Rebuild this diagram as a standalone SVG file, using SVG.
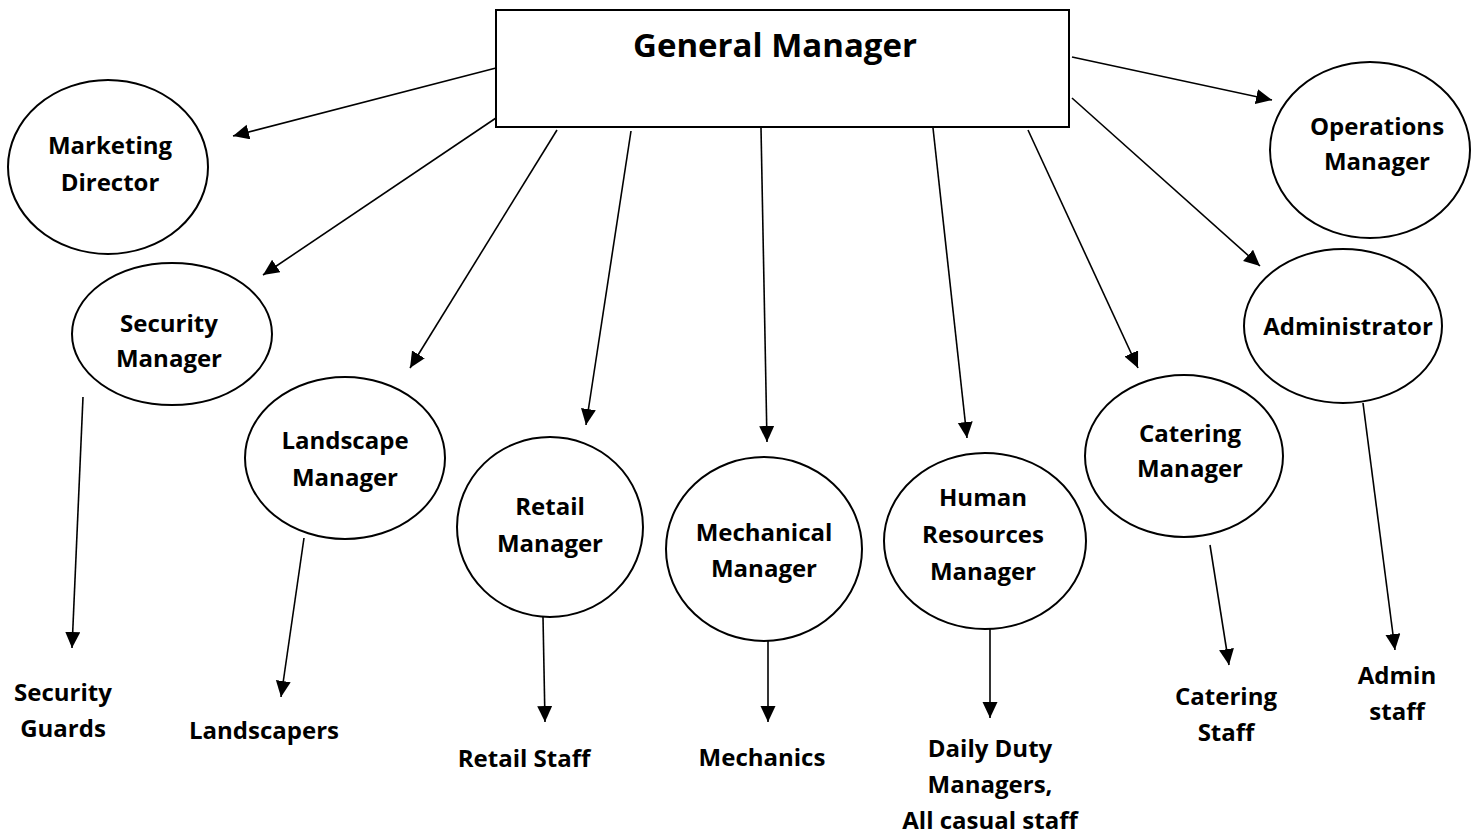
<svg xmlns="http://www.w3.org/2000/svg" width="1482" height="835" viewBox="0 0 1482 835">
<style>
text{font-family:"Open Sans","Liberation Sans",sans-serif;font-weight:bold;font-size:24px;fill:#000;text-anchor:middle}
.node{fill:#fff;stroke:#000;stroke-width:2}
.c line{stroke:#000;stroke-width:1.6;marker-end:url(#ah)}
</style>
<defs>
<marker id="ah" markerUnits="userSpaceOnUse" markerWidth="18" markerHeight="16" refX="16" refY="7.5" orient="auto">
<path d="M0,0 L16,7.5 L0,15 Z" fill="#000"/>
</marker>
</defs>
<rect width="1482" height="835" fill="#fff"/>
<g id="connectors" class="c">
<line x1="496" y1="68" x2="233" y2="136"/>
<line x1="496" y1="118" x2="263" y2="275"/>
<line x1="557" y1="130" x2="410" y2="368"/>
<line x1="631" y1="131" x2="586" y2="425"/>
<line x1="761" y1="128" x2="767" y2="442"/>
<line x1="933" y1="128" x2="967" y2="438"/>
<line x1="1028" y1="130" x2="1138" y2="368"/>
<line x1="1072" y1="98" x2="1260" y2="266"/>
<line x1="1072" y1="57" x2="1272" y2="100"/>
<line x1="83" y1="397" x2="72" y2="648"/>
<line x1="304" y1="538" x2="281" y2="697"/>
<line x1="543" y1="617" x2="545" y2="722"/>
<line x1="768" y1="641" x2="768" y2="722"/>
<line x1="990" y1="629" x2="990" y2="718"/>
<line x1="1210" y1="545" x2="1229" y2="665"/>
<line x1="1363" y1="403" x2="1395" y2="650"/>
</g>
<g id="general-manager">
<rect class="node" x="496" y="10" width="573" height="117"/>
<text x="775" y="57" style="font-size:33px">General Manager</text>
</g>
<g id="marketing-director">
<ellipse class="node" cx="108" cy="167" rx="100" ry="87"/>
<text x="110" y="154">Marketing</text><text x="110" y="191">Director</text>
</g>
<g id="operations-manager">
<ellipse class="node" cx="1370" cy="150" rx="100" ry="88"/>
<text x="1377" y="135">Operations</text><text x="1377" y="170">Manager</text>
</g>
<g id="security-manager">
<ellipse class="node" cx="172" cy="334" rx="100" ry="71"/>
<text x="169" y="332">Security</text><text x="169" y="367">Manager</text>
</g>
<g id="administrator">
<ellipse class="node" cx="1343" cy="326" rx="99" ry="77"/>
<text x="1348" y="335">Administrator</text>
</g>
<g id="landscape-manager">
<ellipse class="node" cx="345" cy="458" rx="100" ry="81"/>
<text x="345" y="449">Landscape</text><text x="345" y="486">Manager</text>
</g>
<g id="catering-manager">
<ellipse class="node" cx="1184" cy="456" rx="99" ry="81"/>
<text x="1190" y="442">Catering</text><text x="1190" y="477">Manager</text>
</g>
<g id="retail-manager">
<ellipse class="node" cx="550" cy="527" rx="93" ry="90"/>
<text x="550" y="515">Retail</text><text x="550" y="552">Manager</text>
</g>
<g id="mechanical-manager">
<ellipse class="node" cx="764" cy="549" rx="98" ry="92"/>
<text x="764" y="541">Mechanical</text><text x="764" y="577">Manager</text>
</g>
<g id="hr-manager">
<ellipse class="node" cx="985" cy="541" rx="101" ry="88"/>
<text x="983" y="506">Human</text><text x="983" y="543">Resources</text><text x="983" y="580">Manager</text>
</g>
<g id="security-guards">
<text x="63" y="701">Security</text><text x="63" y="737">Guards</text>
</g>
<g id="landscapers"><text x="264" y="739">Landscapers</text></g>
<g id="retail-staff"><text x="524" y="767">Retail Staff</text></g>
<g id="mechanics"><text x="762" y="766">Mechanics</text></g>
<g id="daily-duty">
<text x="990" y="757">Daily Duty</text><text x="990" y="793">Managers,</text><text x="990" y="829">All casual staff</text>
</g>
<g id="catering-staff">
<text x="1226" y="705">Catering</text><text x="1226" y="741">Staff</text>
</g>
<g id="admin-staff">
<text x="1397" y="684">Admin</text><text x="1397" y="720">staff</text>
</g>
</svg>
